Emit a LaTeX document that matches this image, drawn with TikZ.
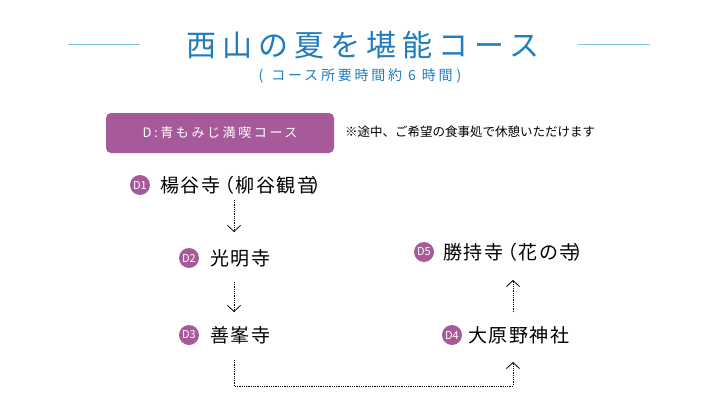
\documentclass[tikz,border=0pt]{standalone}
\usepackage{fontspec}
\setmainfont{Noto Sans CJK JP}
\newfontfamily\spaced[LetterSpace=8]{Noto Sans CJK JP}
\newfontfamily\wide[LetterSpace=20]{Noto Sans CJK JP}
\usetikzlibrary{arrows.meta}
\definecolor{ttl}{HTML}{1F7DBE}
\definecolor{lbl}{HTML}{7EC3E6}
\definecolor{pur}{HTML}{A65A9A}
\begin{document}
\begin{tikzpicture}[x=1pt,y=-1pt,
  badge/.style={circle,fill=pur,text=white,inner sep=0pt,minimum size=20pt,font=\fontsize{11}{11}\selectfont},
  place/.style={anchor=west,inner sep=0pt,font=\spaced\fontsize{19}{19}\selectfont},
  flow/.style={densely dotted,thick,-{Straight Barb[length=6pt,width=13pt]}}]
\useasboundingbox[fill=white] (0,0) rectangle (720,420);
\node[text=ttl,font=\wide\fontsize{30}{30}\selectfont] (title) at (363,45) {西山の夏を堪能コース};
\draw[lbl,thin] (68,44) -- (140,44) (578,44) -- (650,44);
\node[text=ttl,font=\wide\fontsize{14}{14}\selectfont] (sub) at (360,76) {(\hspace{8pt}コース所要時間約 6 時間\hspace{4pt})};
\node[fill=pur,rounded corners=5pt,minimum width=228pt,minimum height=40pt,text=white,font=\wide\fontsize{13}{13}\selectfont] (course) at (220,133) {D:青もみじ満喫コース};
\node[anchor=west,inner sep=0pt,font=\fontsize{12.5}{12.5}\selectfont] (note) at (345,132) {※途中、ご希望の食事処で休憩いただけます};
\node[badge] (b1) at (140,185) {D1};
\node[place] (d1) at (160,185) {楊谷寺\hspace{-5pt}（柳谷観音\hspace{-5pt}）};
\node[badge] (b2) at (189,258) {D2};
\node[place] (d2) at (210,258) {光明寺};
\node[badge] (b3) at (189,335) {D3};
\node[place] (d3) at (210,335) {善峯寺};
\node[badge] (b4) at (452,335) {D4};
\node[place] (d4) at (468,335) {大原野神社};
\node[badge] (b5) at (424,252) {D5};
\node[place] (d5) at (443,252) {勝持寺\hspace{-5pt}（花の寺\hspace{-5pt}）};
\coordinate (a1s) at (234,200); \coordinate (a1e) at (234,232);
\coordinate (a2s) at (234,282); \coordinate (a2e) at (234,312);
\coordinate (a3s) at (234,360); \coordinate (a3e) at (513,362);
\coordinate (a4s) at (513,312); \coordinate (a4e) at (513,280);
\draw[flow] (a1s) -- (a1e);
\draw[flow] (a2s) -- (a2e);
\draw[flow] (a3s) |- (513,386) -- (a3e);
\draw[flow] (a4s) -- (a4e);
\end{tikzpicture}
\end{document}
